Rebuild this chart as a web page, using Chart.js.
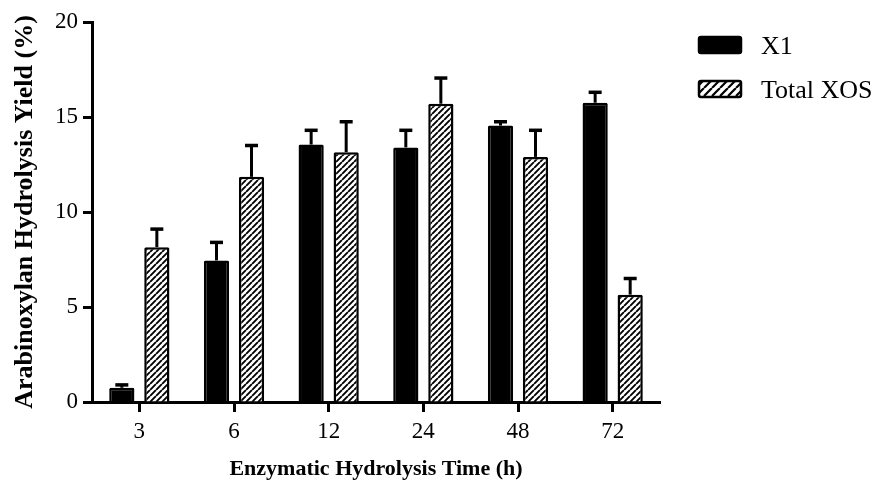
<!DOCTYPE html>
<html>
<head>
<meta charset="utf-8">
<script src="https://cdn.jsdelivr.net/npm/chart.js@4"></script>
<style>
  html, body { margin: 0; padding: 0; background: #fff; }
  #wrap { width: 878px; height: 484px; position: relative; }
</style>
</head>
<body>
<div id="wrap"><canvas id="yieldChart"></canvas></div>
<script>
// hydrolysis time points (h)
const times = ['3', '6', '12', '24', '48', '72'];
// mean yields (%)
const x1Yield = [0.75, 7.45, 13.55, 13.4, 14.55, 15.75];
const xosYield = [8.15, 11.85, 13.15, 15.7, 12.9, 5.65];
// standard deviations (upper bar only)
const x1Err = [0.15, 0.95, 0.75, 0.9, 0.2, 0.55];
const xosErr = [0.95, 1.65, 1.6, 1.35, 1.4, 0.85];
const yTicks = [0, 5, 10, 15, 20];

const serif = "'Liberation Serif', 'Times New Roman', serif";

// diagonal hatch ////
function makeHatch(step, lw) {
  const c = document.createElement('canvas');
  c.width = step; c.height = step;
  const g = c.getContext('2d');
  g.fillStyle = '#fff';
  g.fillRect(0, 0, step, step);
  g.strokeStyle = '#000';
  g.lineWidth = lw;
  g.beginPath();
  for (let k = -1; k <= 1; k++) {
    g.moveTo(k * step, step);
    g.lineTo(k * step + step, 0);
  }
  g.stroke();
  return g.createPattern(c, 'repeat');
}
const hatch = makeHatch(6, 1.9);

// upward error bars with a cap
const errorBars = {
  id: 'errorBars',
  afterDatasetsDraw(chart) {
    const ctx = chart.ctx;
    const y = chart.scales.y;
    chart.data.datasets.forEach((ds, i) => {
      const meta = chart.getDatasetMeta(i);
      meta.data.forEach((bar, j) => {
        const top = y.getPixelForValue(ds.data[j] + ds.errors[j]);
        ctx.save();
        ctx.strokeStyle = '#000';
        ctx.lineWidth = 3;
        ctx.beginPath();
        ctx.moveTo(bar.x, bar.y);
        ctx.lineTo(bar.x, top);
        ctx.stroke();
        ctx.lineWidth = 3.5;
        ctx.beginPath();
        ctx.moveTo(bar.x - 6.5, top);
        ctx.lineTo(bar.x + 6.5, top);
        ctx.stroke();
        ctx.restore();
      });
    });
  }
};

// legend drawn beside the plot
const sideLegend = {
  id: 'sideLegend',
  afterDraw(chart) {
    const ctx = chart.ctx;
    const x0 = chart.chartArea.right + 38;
    chart.data.datasets.forEach((ds, i) => {
      const top = 36 + i * 44;
      ctx.save();
      ctx.fillStyle = i === 0 ? '#000' : makeHatch(8, 2.2);
      ctx.strokeStyle = '#000';
      ctx.lineWidth = 2.5;
      ctx.beginPath();
      ctx.roundRect(x0 + 1, top + 1, 42, 16, 2);
      ctx.fill();
      ctx.stroke();
      ctx.fillStyle = '#000';
      ctx.font = '26px ' + serif;
      ctx.textBaseline = 'middle';
      ctx.fillText(ds.label, x0 + 63, top + 11);
      ctx.restore();
    });
  }
};

new Chart(document.getElementById('yieldChart'), {
  type: 'bar',
  data: {
    labels: times,
    datasets: [
      {
        label: 'X1',
        data: x1Yield,
        errors: x1Err,
        backgroundColor: '#000',
        borderColor: '#000',
        borderWidth: 2.5,
        borderRadius: 1.5,
        borderSkipped: 'bottom'
      },
      {
        label: 'Total XOS',
        data: xosYield,
        errors: xosErr,
        backgroundColor: hatch,
        borderColor: '#000',
        borderWidth: 2.5,
        borderRadius: 1.5,
        borderSkipped: 'bottom'
      }
    ]
  },
  options: {
    responsive: true,
    maintainAspectRatio: false,
    animation: false,
    datasets: { bar: { categoryPercentage: 0.74, barPercentage: 0.72 } },
    layout: { padding: { top: 22, right: 218, left: 0, bottom: 0 } },
    plugins: {
      legend: { display: false },
      tooltip: { enabled: false }
    },
    scales: {
      x: {
        offset: true,
        afterFit(s) { s.height = 82; },
        grid: {
          offset: false,
          drawOnChartArea: false,
          tickLength: 10,
          tickWidth: 3,
          tickColor: '#000'
        },
        border: { color: '#000', width: 3 },
        ticks: { color: '#000', padding: 6, font: { family: serif, size: 23 } },
        title: {
          display: true,
          text: 'Enzymatic Hydrolysis Time (h)',
          color: '#000',
          padding: { top: 0, bottom: 1 },
          font: { family: serif, size: 22, weight: 'bold' }
        }
      },
      y: {
        min: 0,
        max: 20,
        afterFit(s) { s.width = 92; },
        afterBuildTicks(s) { s.ticks = yTicks.map(v => ({ value: v })); },
        grid: {
          drawOnChartArea: false,
          tickLength: 9,
          tickWidth: 3,
          tickColor: '#000'
        },
        border: { color: '#000', width: 3 },
        ticks: { color: '#000', padding: 5, font: { family: serif, size: 23 } },
        title: {
          display: true,
          text: 'Arabinoxylan Hydrolysis Yield (%)',
          color: '#000',
          padding: { top: 10, bottom: 0 },
          font: { family: serif, size: 26, weight: 'bold' }
        }
      }
    }
  },
  plugins: [errorBars, sideLegend]
});
</script>
</body>
</html>
